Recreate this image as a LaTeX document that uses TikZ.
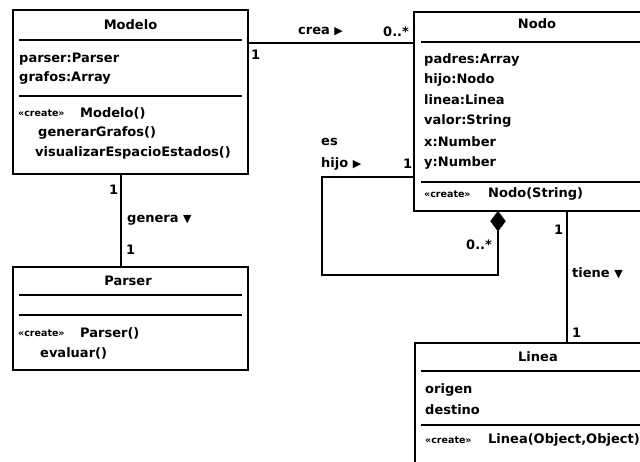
\documentclass[tikz,border=0pt]{standalone}
\usepackage{fontspec}
\setmainfont{DejaVu Sans}
\newfontfamily\symfont{DejaVu Sans}
\usetikzlibrary{shapes.geometric}
\newcommand{\rtri}{{\symfont\fontsize{11}{12}\selectfont ▶}}
\newcommand{\dtri}{{\symfont\fontsize{11}{12}\selectfont ▼}}
\begin{document}
\begin{tikzpicture}[x=1pt,y=-1pt,
  umlbox/.style={draw, line width=1.8pt, anchor=north west, inner sep=0pt, outer sep=0pt},
  sepline/.style={line width=1.6pt},
  conn/.style={line width=1.8pt},
  txt/.style={anchor=west, inner sep=0pt, font=\fontsize{13}{15}\selectfont\bfseries},
  ttl/.style={inner sep=0pt, font=\fontsize{13}{15}\selectfont\bfseries},
  stereo/.style={anchor=west, inner sep=0pt, font=\fontsize{9.5}{11}\selectfont\bfseries},
  comp/.style={diamond, fill=black, draw=black, inner sep=0pt, minimum width=15pt, minimum height=20pt, anchor=north}
]
\useasboundingbox[fill=white] (0,0) rectangle (640,461);

% ---------- Modelo ----------
\node[umlbox, minimum width=235pt, minimum height=164pt] (modelo) at (13,10) {};
\node[ttl] (modeloT) at (130.5,25) {Modelo};
\draw[sepline] (19,40) -- (242,40);
\node[txt] (m1) at (19,59) {parser:Parser};
\node[txt] (m2) at (19,78) {grafos:Array};
\draw[sepline] (19,96) -- (242,96);
\node[stereo] (m3s) at (18,113) {«create»};
\node[txt] (m3) at (80,113) {Modelo()};
\node[txt] (m4) at (38,133) {generarGrafos()};
\node[txt] (m5) at (35,153) {visualizarEspacioEstados()};

% ---------- Parser ----------
\node[umlbox, minimum width=235pt, minimum height=103pt] (parser) at (13,267) {};
\node[ttl] (parserT) at (128,281) {Parser};
\draw[sepline] (19,295) -- (242,295);
\draw[sepline] (19,315) -- (242,315);
\node[stereo] (p1s) at (18,333) {«create»};
\node[txt] (p1) at (80,333) {Parser()};
\node[txt] (p2) at (40,353) {evaluar()};

% ---------- Nodo ----------
\node[umlbox, minimum width=247pt, minimum height=199pt] (nodo) at (414,12) {};
\node[ttl] (nodoT) at (537,24) {Nodo};
\draw[sepline] (421,42) -- (660,42);
\node[txt] (n1) at (424,60) {padres:Array};
\node[txt] (n2) at (424,80) {hijo:Nodo};
\node[txt] (n3) at (424,100) {linea:Linea};
\node[txt] (n4) at (424,121) {valor:String};
\node[txt] (n5) at (424,142) {x:Number};
\node[txt] (n6) at (424,163) {y:Number};
\draw[sepline] (421,182) -- (660,182);
\node[stereo] (n7s) at (424,194) {«create»};
\node[txt] (n7) at (488,194) {Nodo(String)};

% ---------- Linea ----------
\node[umlbox, minimum width=247pt, minimum height=140pt] (linea) at (415,343) {};
\node[ttl] (lineaT) at (538,357) {Linea};
\draw[sepline] (421,371) -- (660,371);
\node[txt] (l1) at (425,390) {origen};
\node[txt] (l2) at (425,410) {destino};
\draw[sepline] (421,425) -- (660,425);
\node[stereo] (l3s) at (425,440) {«create»};
\node[txt] (l3) at (488,440) {Linea(Object,Object)};

% ---------- Modelo -- Nodo (crea) ----------
\coordinate (creaY) at (0,43);
\draw[conn] (creaY -| modelo.east) -- (creaY -| nodo.west);
\node[txt] (creaL) at (298,32) {crea \rtri};
\node[txt] (creaM1) at (383,32) {0..*};
\node[txt] (creaM2) at (251,55) {1};

% ---------- Modelo -- Parser (genera) ----------
\coordinate (genX) at (121,0);
\draw[conn] (genX |- modelo.south) -- (genX |- parser.north);
\node[txt] (genM1) at (109,190) {1};
\node[txt] (genL) at (127,220) {genera \dtri};
\node[txt] (genM2) at (126,250) {1};

% ---------- Nodo self loop (es hijo) ----------
\node[comp] (dia) at (498,211) {};
\coordinate (lp1) at (498,275);
\coordinate (lp2) at (322,275);
\coordinate (lp3) at (322,177);
\draw[conn] (dia.south) -- (lp1) -- (lp2) -- (lp3) -- (lp3 -| nodo.west);
\node[txt] (esL1) at (321,142) {es};
\node[txt] (esL2) at (321,164) {hijo \rtri};
\node[txt] (esM1) at (403,164) {1};
\node[txt] (esM2) at (466,245) {0..*};

% ---------- Nodo -- Linea (tiene) ----------
\coordinate (tieneX) at (567,0);
\draw[conn] (tieneX |- nodo.south) -- (tieneX |- linea.north);
\node[txt] (tiM1) at (554,230) {1};
\node[txt] (tiL) at (572,273) {tiene \dtri};
\node[txt] (tiM2) at (572,333) {1};
\end{tikzpicture}
\end{document}
